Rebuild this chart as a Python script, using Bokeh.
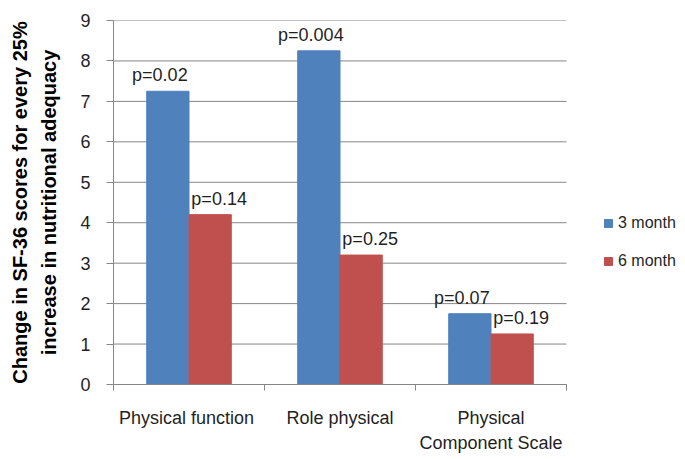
import numpy as np
from bokeh.plotting import figure
from bokeh.models import ColumnDataSource, Range1d, FixedTicker, Legend, LegendItem
from bokeh.embed import file_html
from bokeh.resources import INLINE
from bokeh.core.properties import value

# ---- data ----
categories = ["Physical  function", "Role physical", "Physical\nComponent Scale"]
series_names = ["3 month", "6 month"]
month3 = [7.25, 8.25, 1.75]
month6 = [4.2, 3.2, 1.25]
p_month3 = ["p=0.02", "p=0.004", "p=0.07"]
p_month6 = ["p=0.14", "p=0.25", "p=0.19"]
y_ticks = list(range(0, 10))
y_title = ["Change in SF-36 scores for every 25%", "increase in nutritional adequacy"]

# ---- style / layout ----
FONT = "Liberation Sans"
BLUE = "#4F81BD"
RED = "#C0504D"
GRID = "#868686"
TEXT = "#1f1f1f"

W, H = 681, 455
LEFT, TOP, BOTTOM, PLOT_RIGHT = 113, 20, 387, 566   # pixel layout of the plotting area
n = len(categories)
# the frame runs to the right edge so the legend can sit beside the bars
x_end = n * (W - LEFT) / (PLOT_RIGHT - LEFT)

p = figure(width=W, height=H, output_backend="svg", toolbar_location=None,
           x_range=Range1d(0, x_end), y_range=Range1d(0, y_ticks[-1]),
           min_border_left=LEFT, min_border_right=0, min_border_top=TOP,
           min_border_bottom=H - BOTTOM)
p.background_fill_color = "white"
p.border_fill_color = "white"
p.outline_line_color = None

# horizontal grid lines only across the category area
p.segment(x0=[0] * len(y_ticks), x1=[n] * len(y_ticks), y0=y_ticks, y1=y_ticks,
          line_color=GRID, line_width=1)

centers = np.arange(n) + 0.5
bw = 0.28
src3 = ColumnDataSource(dict(x=centers - bw / 2, top=month3, label=p_month3))
src6 = ColumnDataSource(dict(x=centers + bw / 2, top=month6, label=p_month6))

r3 = p.vbar(x="x", top="top", width=bw, source=src3, fill_color=BLUE, line_color=BLUE)
r6 = p.vbar(x="x", top="top", width=bw, source=src6, fill_color=RED, line_color=RED)

p.text(x="x", y="top", text="label", source=src3, x_offset=-8, y_offset=-6,
       text_align="center", text_baseline="bottom", text_font=value(FONT),
       text_font_size="18px", text_color=TEXT)
p.text(x="x", y="top", text="label", source=src6, x_offset=9, y_offset=-6,
       text_align="center", text_baseline="bottom", text_font=value(FONT),
       text_font_size="18px", text_color=TEXT)

# y axis
p.yaxis.ticker = FixedTicker(ticks=y_ticks)
p.yaxis.major_tick_out = 7
p.yaxis.major_tick_in = 0
p.yaxis.minor_tick_out = 0
p.yaxis.minor_tick_in = 0
p.yaxis.axis_line_color = GRID
p.yaxis.major_tick_line_color = GRID
p.yaxis.major_label_text_font = FONT
p.yaxis.major_label_text_font_size = "18px"
p.yaxis.major_label_text_color = TEXT
p.yaxis.major_label_standoff = 16
p.yaxis.axis_label = "\n".join(y_title)
p.yaxis.axis_label_text_font = FONT
p.yaxis.axis_label_text_font_size = "20px"
p.yaxis.axis_label_text_font_style = "bold"
p.yaxis.axis_label_text_color = "black"
p.yaxis.axis_label_text_line_height = 1.35
p.yaxis.axis_label_standoff = 17

# x axis
p.xaxis.bounds = (0, n)
p.xaxis.ticker = FixedTicker(ticks=[float(c) for c in centers],
                             minor_ticks=list(range(n + 1)))
p.xaxis.major_label_overrides = {float(c): cat for c, cat in zip(centers, categories)}
p.xaxis.major_tick_out = 0
p.xaxis.major_tick_in = 0
p.xaxis.minor_tick_out = 6
p.xaxis.minor_tick_in = 0
p.xaxis.minor_tick_line_color = GRID
p.xaxis.axis_line_color = GRID
p.xaxis.major_label_text_font = FONT
p.xaxis.major_label_text_font_size = "18px"
p.xaxis.major_label_text_color = TEXT
p.xaxis.major_label_text_line_height = 1.25
p.xaxis.major_label_standoff = 17

p.xgrid.visible = False
p.ygrid.visible = False

legend = Legend(items=[LegendItem(label=series_names[0], renderers=[r3]),
                       LegendItem(label=series_names[1], renderers=[r6])],
                location=(490, 113), glyph_width=10, glyph_height=10, label_height=20,
                spacing=18, padding=0, margin=0, border_line_color=None,
                background_fill_alpha=0, label_text_font=FONT,
                label_text_font_size="16px", label_text_color=TEXT, label_standoff=5)
p.add_layout(legend)

open("out.html", "w").write(file_html(p, INLINE))
